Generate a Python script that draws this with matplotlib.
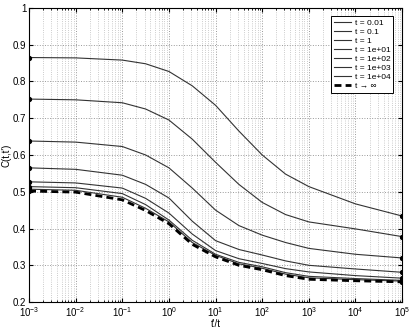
import numpy as np
import matplotlib
matplotlib.use("Agg")
import matplotlib.pyplot as plt
from matplotlib.ticker import LogLocator, NullFormatter

# abscissa t'/t sampled per half decade
tt = [1e-3, 1e-2, 1e-1, 10**-0.5, 1, 10**0.5, 10, 10**1.5, 100, 10**2.5, 1e3, 1e4, 1e5]

c_001 = [.865, .864, .858, .848, .827, .788, .735, .665, .600, .548, .514, .467, .434]
c_01 = [.752, .750, .742, .725, .695, .643, .580, .520, .471, .438, .418, .399, .378]
c_1 = [.638, .635, .623, .600, .565, .510, .450, .408, .382, .362, .346, .330, .320]
c_1e1 = [.565, .561, .545, .520, .483, .420, .367, .343, .328, .312, .300, .290, .281]
c_1e2 = [.527, .524, .510, .482, .442, .385, .340, .318, .305, .291, .282, .272, .265]
c_1e3 = [.514, .511, .495, .465, .423, .368, .330, .308, .296, .280, .270, .264, .259]
c_1e4 = [.507, .504, .485, .455, .418, .362, .327, .304, .292, .276, .266, .261, .257]
c_inf = [.502, .499, .478, .449, .413, .357, .323, .300, .288, .272, .262, .258, .255]

curvas = [c_001, c_01, c_1, c_1e1, c_1e2, c_1e3, c_1e4]
rotulos = ['t = 0.01', 't = 0.1', 't = 1', 't = 1e+01', 't = 1e+02', 't = 1e+03', 't = 1e+04']

y_ticks = [0.2, 0.3, 0.4, 0.5, 0.6, 0.7, 0.8, 0.9, 1.0]
y_rot = ['0.2', '0.3', '0.4', '0.5', '0.6', '0.7', '0.8', '0.9', '1']

plt.rcParams['font.family'] = ['Liberation Sans', 'DejaVu Sans']
plt.rcParams['font.size'] = 7
plt.rcParams['mathtext.fontset'] = 'custom'
plt.rcParams['mathtext.rm'] = 'Liberation Sans'
plt.rcParams['mathtext.it'] = 'Liberation Sans'
plt.rcParams['mathtext.default'] = 'regular'

fig = plt.figure(figsize=(4.15, 3.28), dpi=100)
ax = fig.add_axes([0.07, 0.079, 0.899, 0.897])

for c, r in zip(curvas, rotulos):
    ax.plot(tt, c, color='#333333', lw=0.8, label=r)
    ax.plot([tt[0], tt[-1]], [c[0], c[-1]], 'o', color='black', ms=2.8, ls='none')
ax.plot(tt, c_inf, color='black', lw=2, ls=(0, (2.5, 1.5)), label='t → ∞')
ax.plot([tt[0], tt[-1]], [c_inf[0], c_inf[-1]], 'o', color='black', ms=2.8, ls='none')

ax.set_xscale('log')
ax.set_xlim(1e-3, 1e5)
ax.xaxis.set_major_locator(LogLocator(base=10, numticks=20))
ax.xaxis.set_minor_locator(LogLocator(base=10, subs=np.arange(2, 10), numticks=20))
ax.xaxis.set_minor_formatter(NullFormatter())
ax.set_yticks(y_ticks)
ax.set_yticklabels(y_rot)
ax.set_ylim(0.2, 1)

ax.tick_params(which='both', direction='in', top=True, right=True, labelsize=7, pad=2)
ax.tick_params(which='major', length=3)
ax.tick_params(which='minor', length=1.5)
ax.grid(True, which='major', ls=':', color='#999999', lw=0.7)
ax.grid(True, which='minor', axis='x', ls=':', color='#bbbbbb', lw=0.6)

for s in ax.spines.values():
    s.set_linewidth(0.8)

ax.set_xlabel("t'/t", fontsize=7, labelpad=0)
ax.set_ylabel("C(t,t')", fontsize=7, labelpad=1)

leg = ax.legend(loc='upper right', fontsize=6, frameon=True, fancybox=False,
                edgecolor='black', framealpha=1, handlelength=2.0, handletextpad=0.5,
                borderpad=0.35, labelspacing=0.15, bbox_to_anchor=(0.988, 0.987))
leg.get_frame().set_linewidth(0.7)

fig.savefig('out.png', dpi=100)
